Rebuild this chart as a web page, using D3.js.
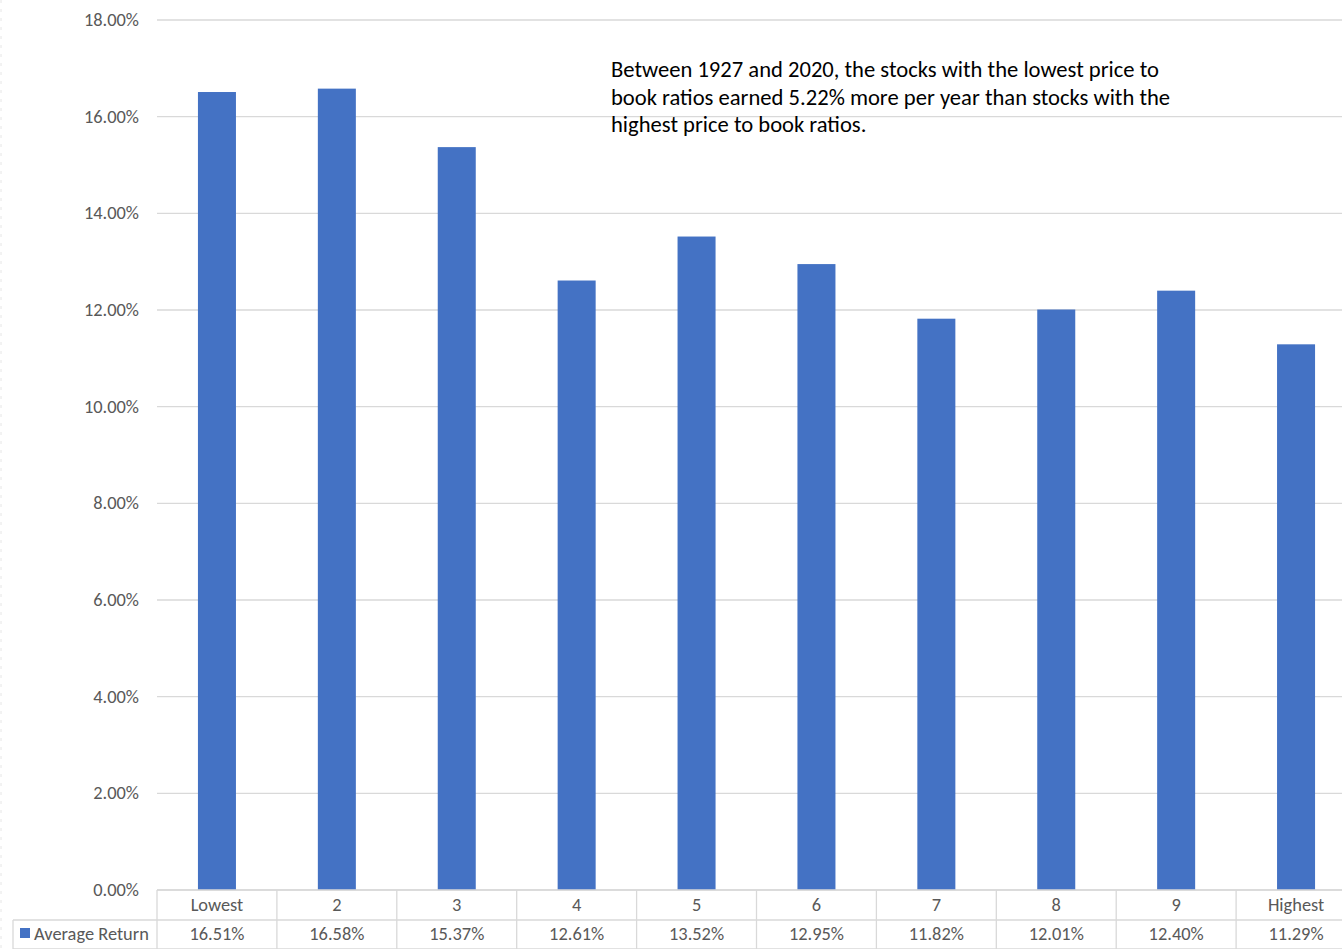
<!DOCTYPE html>
<html><head><meta charset="utf-8">
<script src="https://cdn.jsdelivr.net/npm/d3@7"></script>
<style>body{margin:0;background:#fff}svg{display:block}</style>
</head><body>
<svg id="c" width="1342" height="949"></svg>
<script>
const categories = ["Lowest","2","3","4","5","6","7","8","9","Highest"];
const values = [16.51,16.58,15.37,12.61,13.52,12.95,11.82,12.01,12.40,11.29];
const valueLabels = ["16.51%","16.58%","15.37%","12.61%","13.52%","12.95%","11.82%","12.01%","12.40%","11.29%"];
const yTicks = [0,2,4,6,8,10,12,14,16,18];
const seriesName = "Average Return";
const noteLines = ["Between 1927 and 2020, the stocks with the lowest price to",
  "book ratios earned 5.22% more per year than stocks with the",
  "highest price to book ratios."];

(function(){
const svg = d3.select("#c");
const font = "Calibri, Carlito, Lato, 'Open Sans', sans-serif";
const fs = "18.4px";
const pLeft = 157, pRight = 1356, pTop = 20, pBottom = 890;
const x = d3.scaleBand().domain(categories).range([pLeft, pRight]).paddingInner(0.683).paddingOuter(0.3415);
const y = d3.scaleLinear().domain([0, 18]).range([pBottom, pTop]);

svg.append("line").attr("x1",1).attr("x2",1).attr("y1",0).attr("y2",949)
  .attr("stroke","#e6e6e6").attr("stroke-dasharray","3,6");

svg.append("g").selectAll("line").data(yTicks).join("line")
  .attr("x1", pLeft).attr("x2", 1342)
  .attr("y1", d => y(d)).attr("y2", d => y(d))
  .attr("stroke", "#d9d9d9").attr("stroke-width", 1.3);

svg.append("g").selectAll("text").data(yTicks).join("text")
  .attr("x", 139).attr("y", d => y(d) + 6)
  .attr("text-anchor", "end").attr("fill", "#595959")
  .style("font-family", font).style("font-size", fs)
  .text(d => d.toFixed(2) + "%");

svg.append("g").selectAll("rect").data(values).join("rect")
  .attr("x", (d,i) => x(categories[i]))
  .attr("width", x.bandwidth())
  .attr("y", d => y(d))
  .attr("height", d => y(0) - y(d))
  .attr("fill", "#4472C4");

const step = x.step();
const tg = svg.append("g").attr("stroke", "#d9d9d9").attr("stroke-width", 1.3);
tg.append("line").attr("x1", pLeft).attr("x2", 1342).attr("y1", pBottom).attr("y2", pBottom);
tg.append("line").attr("x1", 13).attr("x2", 1342).attr("y1", 920).attr("y2", 920);
tg.append("line").attr("x1", 13).attr("x2", 1342).attr("y1", 949).attr("y2", 949);
tg.append("line").attr("x1", 13).attr("x2", 13).attr("y1", 920).attr("y2", 949);
tg.selectAll("line.v").data(d3.range(categories.length + 1)).join("line").attr("class","v")
  .attr("x1", i => pLeft + i * step).attr("x2", i => pLeft + i * step)
  .attr("y1", pBottom).attr("y2", 949);

svg.append("g").selectAll("text").data(categories).join("text")
  .attr("x", d => x(d) + x.bandwidth()/2).attr("y", 910.5)
  .attr("text-anchor", "middle").attr("fill", "#595959")
  .style("font-family", font).style("font-size", fs).text(d => d);
svg.append("g").selectAll("text").data(valueLabels).join("text")
  .attr("x", (d,i) => x(categories[i]) + x.bandwidth()/2).attr("y", 939.5)
  .attr("text-anchor", "middle").attr("fill", "#595959")
  .style("font-family", font).style("font-size", fs).text(d => d);

svg.append("rect").attr("x", 20).attr("y", 928).attr("width", 10).attr("height", 10).attr("fill", "#4472C4");
svg.append("text").attr("x", 34).attr("y", 939.5).attr("fill", "#595959")
  .style("font-family", font).style("font-size", fs).text(seriesName);

svg.append("g").selectAll("text").data(noteLines).join("text")
  .attr("x", 611).attr("y", (d,i) => 77 + i * 27.5)
  .attr("fill", "#000").style("font-family", font).style("font-size", "22.6px")
  .text(d => d);
})();
</script>
</body></html>
